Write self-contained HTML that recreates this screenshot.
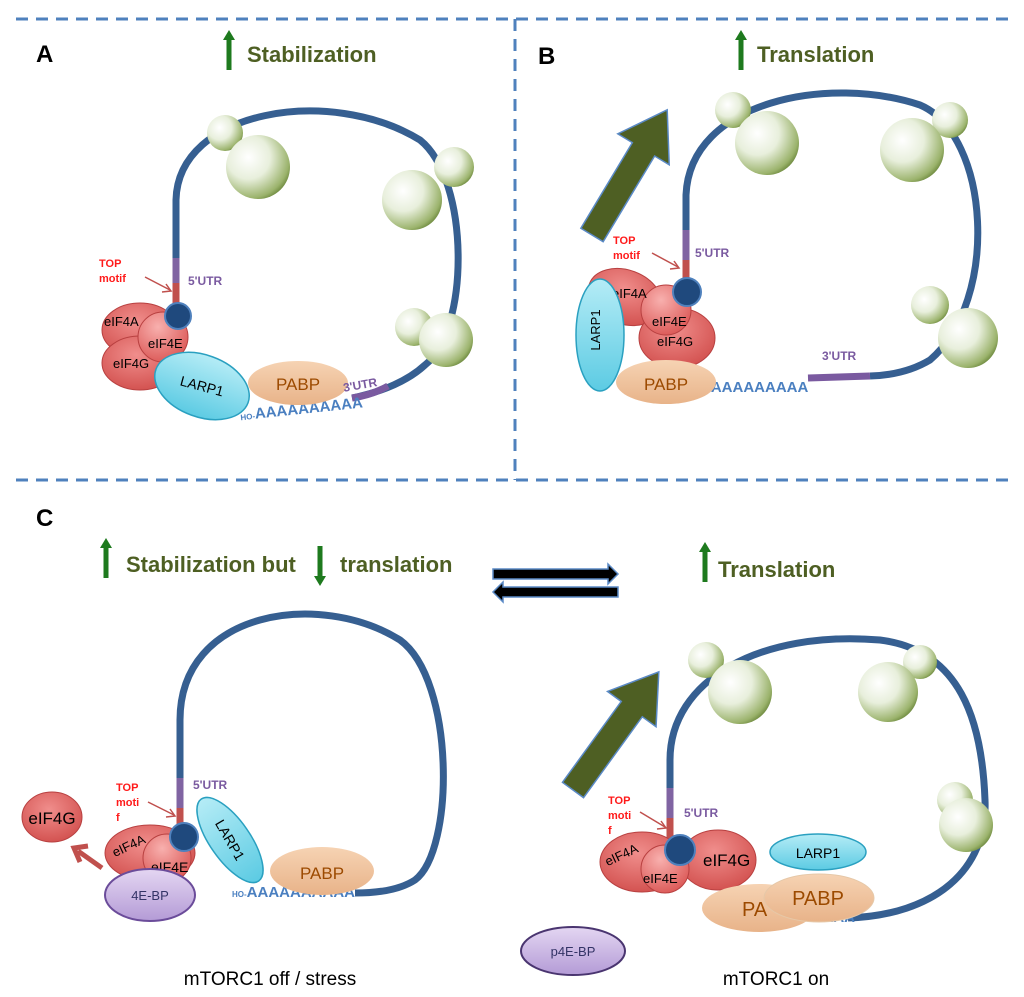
<!DOCTYPE html>
<html><head><meta charset="utf-8"><style>
html,body{margin:0;padding:0;background:#fff}
svg{display:block}
.h{font-family:"Liberation Sans Narrow","Liberation Sans",sans-serif;font-weight:bold;fill:#4e5f23}
.L{font-family:"Liberation Sans",sans-serif;font-weight:bold;font-size:24px;fill:#000}
.t{font-family:"Liberation Sans",sans-serif}
.top{font-family:"Liberation Sans",sans-serif;font-weight:bold;font-size:11px;fill:#ff1a1a}
.utr{font-family:"Liberation Sans",sans-serif;font-weight:bold;font-size:12px;fill:#7a5aa0}
.aa{font-family:"Liberation Sans",sans-serif;font-weight:bold;font-size:15px;fill:#4a7fc0}
</style></head><body>
<svg width="1024" height="997" viewBox="0 0 1024 997" xmlns="http://www.w3.org/2000/svg">
<defs>
<radialGradient id="sph" cx="0.35" cy="0.35" r="0.75">
<stop offset="0" stop-color="#ffffff"/><stop offset="0.45" stop-color="#e8efdc"/><stop offset="0.85" stop-color="#9bb36c"/><stop offset="1" stop-color="#5d7a2e"/></radialGradient>
<radialGradient id="red" cx="0.45" cy="0.35" r="0.75"><stop offset="0" stop-color="#f08e8c"/><stop offset="1" stop-color="#cf4a48"/></radialGradient>
<radialGradient id="red2" cx="0.4" cy="0.3" r="0.8"><stop offset="0" stop-color="#f8b0ae"/><stop offset="1" stop-color="#d9514f"/></radialGradient>
<linearGradient id="cy" x1="0" y1="0" x2="0" y2="1"><stop offset="0" stop-color="#b5ecf6"/><stop offset="1" stop-color="#5ccbe3"/></linearGradient>
<linearGradient id="pe" x1="0" y1="0" x2="0" y2="1"><stop offset="0" stop-color="#f6d3b3"/><stop offset="1" stop-color="#e8b389"/></linearGradient>
<linearGradient id="pu" x1="0" y1="0" x2="0" y2="1"><stop offset="0" stop-color="#e4d6f2"/><stop offset="1" stop-color="#b49bd6"/></linearGradient>
<g id="bigarrow"><polygon points="0,-13 100,-13 100,-30 146,0 100,30 100,13 0,13" fill="#4e5f23" stroke="#5b8ac6" stroke-width="1.5"/></g>
<g id="upg"><rect x="-2.5" y="-14" width="5" height="34" fill="#1e7a1e"/><polygon points="-6,-10 6,-10 0,-20" fill="#1e7a1e"/></g>
</defs>

<g stroke="#4f81bd" stroke-width="3" stroke-dasharray="12,8" fill="none">
<line x1="16" y1="19" x2="1015" y2="19"/>
<line x1="515" y1="19" x2="515" y2="480"/>
<line x1="16" y1="480" x2="1015" y2="480"/>
</g>

<text class="L" x="36" y="62">A</text>
<text class="L" x="538" y="64">B</text>
<text class="L" x="36" y="526">C</text>
<use href="#upg" x="229" y="50"/><text class="h" x="247" y="62" font-size="22">Stabilization</text>
<use href="#upg" x="741" y="50"/><text class="h" x="757" y="62" font-size="22">Translation</text>
<use href="#upg" x="106" y="558"/><text class="h" x="126" y="572" font-size="22">Stabilization but</text>
<g transform="translate(320,566) rotate(180)"><use href="#upg"/></g>
<text class="h" x="340" y="572" font-size="22">translation</text>
<use href="#upg" x="705" y="562"/><text class="h" x="718" y="577" font-size="22">Translation</text>

<polygon points="493,569 608,569 608,564 618,574 608,584 608,579 493,579" fill="#000" stroke="#5b8ac6" stroke-width="1.5"/>
<polygon points="618,587 503,587 503,582 493,592 503,602 503,597 618,597" fill="#000" stroke="#5b8ac6" stroke-width="1.5"/>

<!-- Panel A -->
<path d="M176,300 L176,200 C178,110 330,85 420,140 C470,180 470,330 425,365 Q400,388 352,398" fill="none" stroke="#365f91" stroke-width="7"/>
<line x1="176" y1="258" x2="176" y2="283" stroke="#8064a2" stroke-width="7"/>
<line x1="176" y1="283" x2="176" y2="305" stroke="#c0504d" stroke-width="7"/>
<path d="M352,398 Q372,395 388,386" fill="none" stroke="#7a5aa0" stroke-width="7"/>
<circle cx="225" cy="133" r="18" fill="url(#sph)"/>
<circle cx="258" cy="167" r="32" fill="url(#sph)"/>
<circle cx="454" cy="167" r="20" fill="url(#sph)"/>
<circle cx="412" cy="200" r="30" fill="url(#sph)"/>
<circle cx="414" cy="327" r="19" fill="url(#sph)"/>
<circle cx="446" cy="340" r="27" fill="url(#sph)"/>
<text class="top" x="99" y="267">TOP</text><text class="top" x="99" y="282">motif</text>
<line x1="145" y1="277" x2="170" y2="290" stroke="#c0504d" stroke-width="1.5"/><polyline points="162,292 171,291 166,284" fill="none" stroke="#c0504d" stroke-width="1.5"/>
<text class="utr" x="188" y="285">5'UTR</text>
<ellipse cx="140" cy="330" rx="38" ry="27" fill="url(#red)" stroke="#b84040"/>
<ellipse cx="140" cy="363" rx="38" ry="27" fill="url(#red)" stroke="#b84040"/>
<circle cx="163" cy="337" r="25" fill="url(#red2)" stroke="#b84040"/>
<circle cx="178" cy="316" r="13" fill="#1f497d" stroke="#4f81bd" stroke-width="2"/>
<text class="t" x="104" y="326" font-size="13">eIF4A</text>
<text class="t" x="148" y="348" font-size="13">eIF4E</text>
<text class="t" x="113" y="368" font-size="13">eIF4G</text>
<text class="aa" x="240" y="415" transform="rotate(-6 290 410)"><tspan font-size="8">HO-</tspan>AAAAAAAAAA</text>
<ellipse cx="298" cy="383" rx="50" ry="22" fill="url(#pe)"/>
<text class="t" x="298" y="390" font-size="17" fill="#9c4a00" text-anchor="middle">PABP</text>
<text class="utr" x="343" y="389" transform="rotate(-10 360 385)">3'UTR</text>
<ellipse cx="202" cy="386" rx="49" ry="31" transform="rotate(20 202 386)" fill="url(#cy)" stroke="#2aa0c0" stroke-width="1.5"/>
<text class="t" x="202" y="391" font-size="14" text-anchor="middle" transform="rotate(15 202 386)">LARP1</text>

<!-- Panel B -->
<path d="M686,285 L686,195 C690,100 830,75 920,105 C990,135 1000,300 930,360 Q905,375 870,376" fill="none" stroke="#365f91" stroke-width="7"/>
<line x1="686" y1="230" x2="686" y2="260" stroke="#8064a2" stroke-width="7"/>
<line x1="686" y1="260" x2="686" y2="290" stroke="#c0504d" stroke-width="7"/>
<line x1="808" y1="378" x2="870" y2="376" stroke="#7a5aa0" stroke-width="7"/>
<circle cx="733" cy="110" r="18" fill="url(#sph)"/>
<circle cx="767" cy="143" r="32" fill="url(#sph)"/>
<circle cx="950" cy="120" r="18" fill="url(#sph)"/>
<circle cx="912" cy="150" r="32" fill="url(#sph)"/>
<circle cx="930" cy="305" r="19" fill="url(#sph)"/>
<circle cx="968" cy="338" r="30" fill="url(#sph)"/>
<use href="#bigarrow" transform="translate(592,235) rotate(-59)"/>
<text class="top" x="613" y="244">TOP</text><text class="top" x="613" y="259">motif</text>
<line x1="652" y1="253" x2="678" y2="267" stroke="#c0504d" stroke-width="1.5"/><polyline points="670,269 679,268 674,261" fill="none" stroke="#c0504d" stroke-width="1.5"/>
<text class="utr" x="695" y="257">5'UTR</text>
<text class="utr" x="822" y="360">3'UTR</text>
<ellipse cx="625" cy="297" rx="38" ry="27" transform="rotate(20 625 297)" fill="url(#red)" stroke="#b84040"/>
<ellipse cx="677" cy="338" rx="38" ry="30" fill="url(#red)" stroke="#b84040"/>
<circle cx="666" cy="310" r="25" fill="url(#red2)" stroke="#b84040"/>
<circle cx="687" cy="292" r="14" fill="#1f497d" stroke="#4f81bd" stroke-width="2"/>
<text class="t" x="612" y="298" font-size="13">eIF4A</text>
<text class="t" x="652" y="326" font-size="13">eIF4E</text>
<text class="t" x="657" y="346" font-size="13">eIF4G</text>
<text class="aa" x="700" y="392">AAAAAAAAAA</text>
<ellipse cx="600" cy="335" rx="24" ry="56" fill="url(#cy)" stroke="#2aa0c0" stroke-width="1.5"/>
<text class="t" x="605" y="335" font-size="13" text-anchor="middle" transform="rotate(-90 600 335)">LARP1</text>
<ellipse cx="666" cy="382" rx="50" ry="22" fill="url(#pe)"/>
<text class="t" x="666" y="390" font-size="17" fill="#9c4a00" text-anchor="middle">PABP</text>

<!-- Panel C left -->
<path d="M180,830 L180,720 C180,610 320,590 400,640 C455,680 455,850 415,880 Q395,893 355,893" fill="none" stroke="#365f91" stroke-width="7"/>
<line x1="180" y1="778" x2="180" y2="808" stroke="#8064a2" stroke-width="7"/>
<line x1="180" y1="808" x2="180" y2="832" stroke="#c0504d" stroke-width="7"/>
<text class="top" x="116" y="791">TOP</text><text class="top" x="116" y="806">moti</text><text class="top" x="116" y="821">f</text>
<line x1="148" y1="802" x2="174" y2="815" stroke="#c0504d" stroke-width="1.5"/><polyline points="166,817 175,816 170,809" fill="none" stroke="#c0504d" stroke-width="1.5"/>
<text class="utr" x="193" y="789">5'UTR</text>
<ellipse cx="52" cy="817" rx="30" ry="25" fill="url(#red)" stroke="#b84040"/>
<text class="t" x="52" y="824" font-size="17" text-anchor="middle">eIF4G</text>
<line x1="102" y1="868" x2="78" y2="851" stroke="#c0504d" stroke-width="5"/><polyline points="80,862 74,848 88,846" fill="none" stroke="#c0504d" stroke-width="5"/>
<ellipse cx="150" cy="853" rx="45" ry="28" fill="url(#red)" stroke="#b84040"/>
<circle cx="167" cy="858" r="24" fill="url(#red2)" stroke="#b84040"/>
<circle cx="184" cy="837" r="14" fill="#1f497d" stroke="#4f81bd" stroke-width="2"/>
<text class="t" x="112" y="852" font-size="13" transform="rotate(-25 125 848)">eIF4A</text>
<text class="t" x="151" y="872" font-size="14">eIF4E</text>
<text class="aa" x="232" y="897"><tspan font-size="8">HO-</tspan>AAAAAAAAAA</text>
<ellipse cx="150" cy="895" rx="45" ry="26" fill="url(#pu)" stroke="#6b4c9a" stroke-width="2"/>
<text class="t" x="150" y="900" font-size="13" fill="#333366" text-anchor="middle">4E-BP</text>
<ellipse cx="230" cy="840" rx="20" ry="50" transform="rotate(-35 230 840)" fill="url(#cy)" stroke="#2aa0c0" stroke-width="1.5"/>
<text class="t" x="230" y="845" font-size="14" text-anchor="middle" transform="rotate(60 230 840)">LARP1</text>
<ellipse cx="322" cy="871" rx="52" ry="24" fill="url(#pe)"/>
<text class="t" x="322" y="879" font-size="17" fill="#9c4a00" text-anchor="middle">PABP</text>
<text class="t" x="270" y="985" font-size="19" text-anchor="middle">mTORC1 off / stress</text>

<!-- Panel C right -->
<path d="M670,845 L670,760 C670,680 760,630 880,640 C960,650 982,720 985,800 C988,870 935,915 848,918" fill="none" stroke="#365f91" stroke-width="7"/>
<line x1="670" y1="788" x2="670" y2="818" stroke="#8064a2" stroke-width="7"/>
<line x1="670" y1="818" x2="670" y2="845" stroke="#c0504d" stroke-width="7"/>
<circle cx="706" cy="660" r="18" fill="url(#sph)"/>
<circle cx="740" cy="692" r="32" fill="url(#sph)"/>
<circle cx="920" cy="662" r="17" fill="url(#sph)"/>
<circle cx="888" cy="692" r="30" fill="url(#sph)"/>
<circle cx="955" cy="800" r="18" fill="url(#sph)"/>
<circle cx="966" cy="825" r="27" fill="url(#sph)"/>
<use href="#bigarrow" transform="translate(573,790) rotate(-54)"/>
<text class="top" x="608" y="804">TOP</text><text class="top" x="608" y="819">moti</text><text class="top" x="608" y="834">f</text>
<line x1="640" y1="812" x2="665" y2="827" stroke="#c0504d" stroke-width="1.5"/><polyline points="657,829 666,828 661,821" fill="none" stroke="#c0504d" stroke-width="1.5"/>
<text class="utr" x="684" y="817">5'UTR</text>
<ellipse cx="642" cy="862" rx="42" ry="30" fill="url(#red)" stroke="#b84040"/>
<ellipse cx="718" cy="860" rx="38" ry="30" fill="url(#red)" stroke="#b84040"/>
<circle cx="665" cy="869" r="24" fill="url(#red2)" stroke="#b84040"/>
<circle cx="680" cy="850" r="15" fill="#1f497d" stroke="#4f81bd" stroke-width="2"/>
<text class="t" x="604" y="860" font-size="13" transform="rotate(-25 620 855)">eIF4A</text>
<text class="t" x="643" y="883" font-size="13">eIF4E</text>
<text class="t" x="703" y="866" font-size="17">eIF4G</text>
<ellipse cx="818" cy="852" rx="48" ry="18" fill="url(#cy)" stroke="#2aa0c0" stroke-width="1.5"/>
<text class="t" x="818" y="858" font-size="14" text-anchor="middle">LARP1</text>
<text class="aa" x="790" y="922">AAAAAA</text>
<ellipse cx="759" cy="908" rx="57" ry="24" fill="url(#pe)"/>
<ellipse cx="819" cy="898" rx="55" ry="24" fill="url(#pe)" stroke="#e6c8a8"/>
<text class="t" x="742" y="916" font-size="20" fill="#9c4a00">PA</text>
<text class="t" x="818" y="905" font-size="20" fill="#9c4a00" text-anchor="middle">PABP</text>
<ellipse cx="573" cy="951" rx="52" ry="24" fill="url(#pu)" stroke="#4a3570" stroke-width="2"/>
<text class="t" x="573" y="956" font-size="13" fill="#333366" text-anchor="middle">p4E-BP</text>
<text class="t" x="776" y="985" font-size="19" text-anchor="middle">mTORC1 on</text>
</svg>
</body></html>
